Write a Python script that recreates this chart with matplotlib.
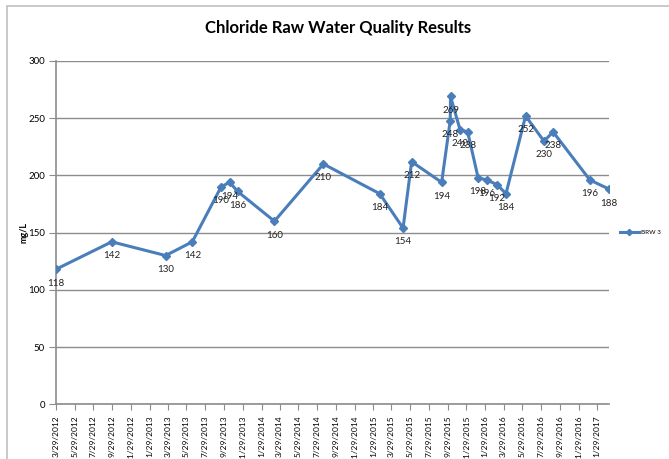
import matplotlib
matplotlib.use("Agg")
import matplotlib.pyplot as plt
import matplotlib.dates as mdates
import matplotlib.patches as patches
import pandas as pd

# ---- data ----
sample_dates = ["2012-03-29", "2012-09-27", "2013-03-22", "2013-06-17", "2013-09-19",
                "2013-10-17", "2013-11-12", "2014-03-12", "2014-08-19", "2015-02-19",
                "2015-05-06", "2015-06-03", "2015-09-09", "2015-10-07", "2015-10-08",
                "2015-11-08", "2015-12-03", "2016-01-06", "2016-02-03", "2016-03-08",
                "2016-04-06", "2016-06-09", "2016-08-08", "2016-09-07", "2017-01-05",
                "2017-03-09"]
chloride = [118, 142, 130, 142, 190, 194, 186, 160, 210, 184, 154, 212, 194, 248, 269,
            240, 238, 198, 196, 192, 184, 252, 230, 238, 196, 188]
series_name = "BRW 3"
tick_labels = ["3/29/2012", "5/29/2012", "7/29/2012", "9/29/2012", "11/29/2012",
               "1/29/2013", "3/29/2013", "5/29/2013", "7/29/2013", "9/29/2013",
               "11/29/2013", "1/29/2014", "3/29/2014", "5/29/2014", "7/29/2014",
               "9/29/2014", "11/29/2014", "1/29/2015", "3/29/2015", "5/29/2015",
               "7/29/2015", "9/29/2015", "11/29/2015", "1/29/2016", "3/29/2016",
               "5/29/2016", "7/29/2016", "9/29/2016", "11/29/2016", "1/29/2017"]
y_ticks = [0, 50, 100, 150, 200, 250, 300]

plt.rcParams['font.family'] = ['Lato', 'DejaVu Sans']

dates = pd.to_datetime(sample_dates)
tick_dates = pd.to_datetime(tick_labels, format="%m/%d/%Y")

W, H = 669, 459
fig = plt.figure(figsize=(W / 100, H / 100), dpi=100)
ax = fig.add_axes([56 / W, 1 - 404.3 / H, (609.2 - 56) / W, (404.3 - 61) / H])

line_color = "#4A7EBB"
grid_color = "#8c8c8c"

ax.plot(dates, chloride, color=line_color, lw=2.2, marker="D", ms=4.5,
        mec=line_color, mfc=line_color, label=series_name, zorder=3)

for d, v in zip(dates, chloride):
    ax.annotate(str(v), (d, v), xytext=(0, -10), textcoords="offset points",
                ha="center", va="center", fontsize=7, color="#222222", zorder=4)

ax.set_ylim(0, 300)
ax.set_yticks(y_ticks)
ax.set_xlim(dates[0], dates[-1])
ax.set_xticks(tick_dates)
ax.set_xticklabels(tick_labels, rotation=90, fontsize=6.0)
ax.tick_params(axis="y", labelsize=7, length=5, color=grid_color, pad=3)
ax.tick_params(axis="x", length=4, color=grid_color, pad=4)

ax.yaxis.grid(True, color=grid_color, lw=1)
ax.set_axisbelow(True)
for s in ["top", "right"]:
    ax.spines[s].set_visible(False)
for s in ["left", "bottom"]:
    ax.spines[s].set_color(grid_color)
    ax.spines[s].set_linewidth(1.2)

ax.set_ylabel("mg/L", fontsize=6.5, fontweight="bold", labelpad=0)

fig.text(338 / W, 1 - 28 / H, "Chloride Raw Water Quality Results",
         ha="center", va="center", fontsize=12, fontweight="bold")

leg = ax.legend(loc="center left", bbox_to_anchor=(1.015, 0.5), frameon=False,
                fontsize=4.5, handlelength=3, markerscale=0.7, borderaxespad=0,
                handletextpad=0.3)

fig.add_artist(patches.Rectangle((7 / W, -0.1), 1.2, (H - 6) / H + 0.1,
                                 transform=fig.transFigure, fill=False,
                                 edgecolor="#c0c0c0", lw=1.2))

fig.savefig("out.png", dpi=100)
